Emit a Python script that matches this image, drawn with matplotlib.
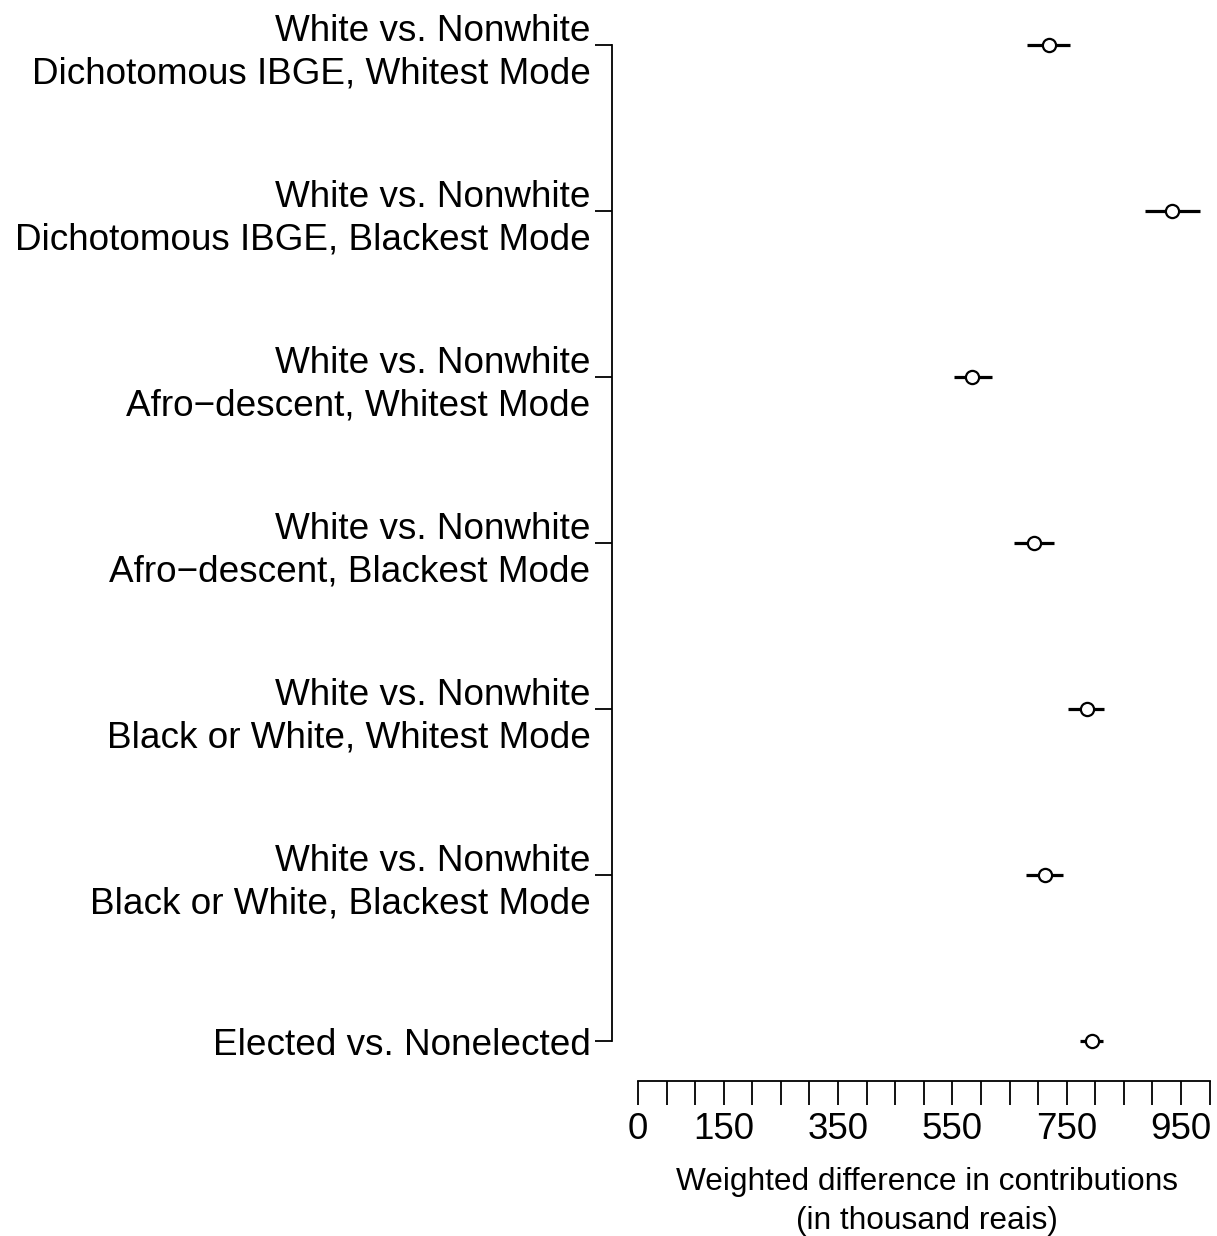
import numpy as np
import matplotlib.pyplot as plt

plt.rcParams['font.family'] = ['Liberation Sans', 'DejaVu Sans']

# data
labels = ["White vs. Nonwhite\nDichotomous IBGE, Whitest Mode",
          "White vs. Nonwhite\nDichotomous IBGE, Blackest Mode",
          "White vs. Nonwhite\nAfro\u2212descent, Whitest Mode",
          "White vs. Nonwhite\nAfro\u2212descent, Blackest Mode",
          "White vs. Nonwhite\nBlack or White, Whitest Mode",
          "White vs. Nonwhite\nBlack or White, Blackest Mode",
          "Elected vs. Nonelected"]
estimate = [719, 934, 585, 692, 785, 712, 794]
ci_low = [680, 887, 553, 658, 752, 679, 773]
ci_high = [755, 984, 619, 728, 816, 744, 814]

xticks = np.arange(0, 1001, 50)
xticklabels = {0: "0", 150: "150", 350: "350", 550: "550", 750: "750", 950: "950"}

W, H = 1217, 1236
fig = plt.figure(figsize=(W / 100, H / 100), dpi=100)
ax = fig.add_axes([612 / W, 1 - 1081 / H, (1215 - 612) / W, (1081 - 5) / H])

y = np.arange(1, len(labels) + 1)
ax.hlines(y, ci_low, ci_high, color='black', lw=2.3, zorder=2)
ax.plot(estimate, y, 'o', ms=9.5, mfc='white', mec='black', mew=1.6, zorder=3)

ax.set_ylim(7.24, 0.76)
ax.set_xlim(-45.5, 1009.5)

for s in ['top', 'right']:
    ax.spines[s].set_visible(False)
ax.spines['left'].set_bounds(1, 7)
ax.spines['bottom'].set_bounds(0, 1000)
ax.spines['left'].set_linewidth(1.3)
ax.spines['bottom'].set_linewidth(1.3)

ax.set_yticks(y)
ax.set_yticklabels(labels, fontsize=26.6, linespacing=1.29, ha='right')
ax.tick_params(axis='y', length=12.5, width=1.3, pad=3)

ax.set_xticks(xticks)
ax.set_xticklabels([xticklabels.get(int(t), "") for t in xticks], fontsize=26.5)
ax.tick_params(axis='x', length=17, width=1.3, pad=5)

ax.set_xlabel("Weighted difference in contributions\n(in thousand reais)",
              fontsize=22.8, linespacing=1.4)
ax.xaxis.set_label_coords(0.522, -0.08)
ax.xaxis.label.set_va('top')

fig.savefig('out.png', dpi=100)
